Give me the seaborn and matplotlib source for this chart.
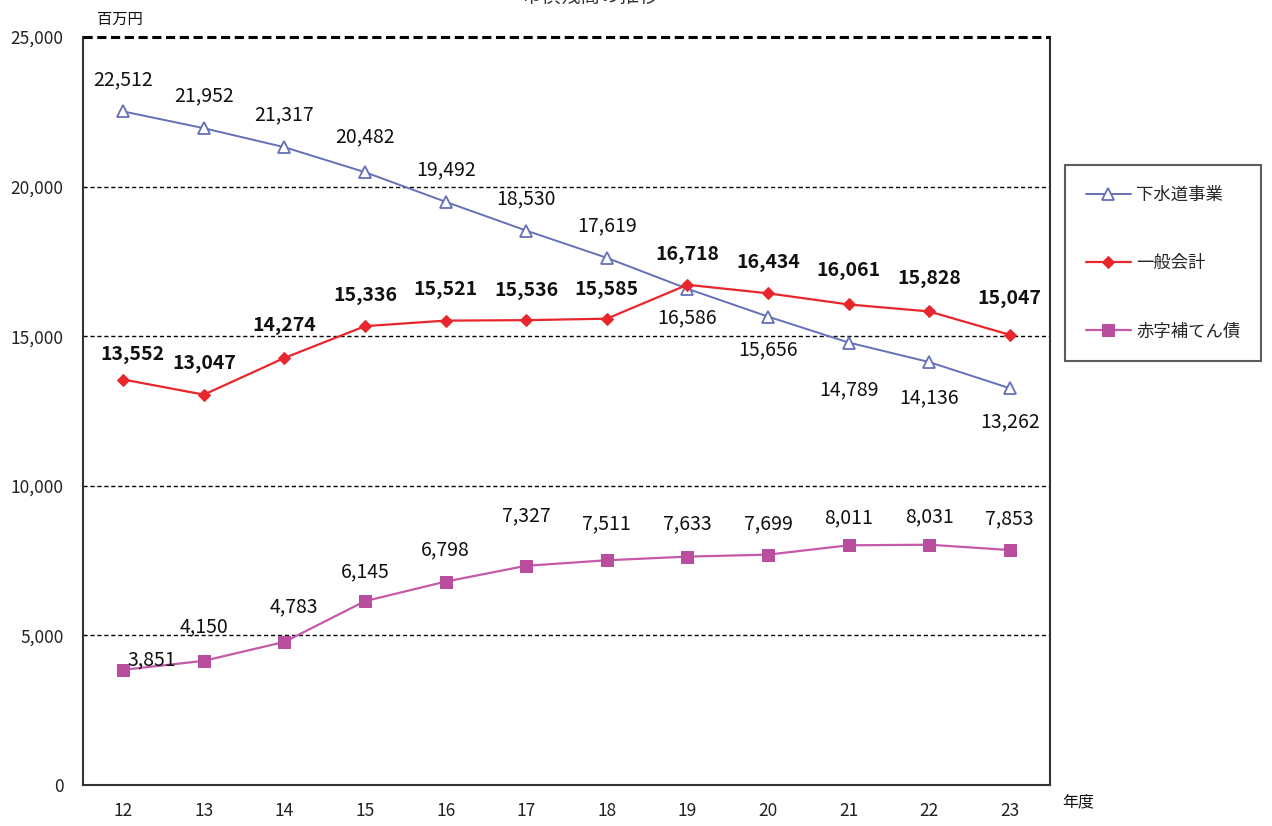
import matplotlib
matplotlib.use("Agg")
import matplotlib.pyplot as plt
import seaborn as sns
import pandas as pd
from matplotlib.ticker import FuncFormatter, MultipleLocator

# 年度 (平成)
years = [12, 13, 14, 15, 16, 17, 18, 19, 20, 21, 22, 23]

# 残高 (百万円)
gesuido = [22512, 21952, 21317, 20482, 19492, 18530, 17619, 16586, 15656, 14789, 14136, 13262]
ippan = [13552, 13047, 14274, 15336, 15521, 15536, 15585, 16718, 16434, 16061, 15828, 15047]
akaji = [3851, 4150, 4783, 6145, 6798, 7327, 7511, 7633, 7699, 8011, 8031, 7853]

series_names = ["下水道事業", "一般会計", "赤字補てん債"]

sns.set_theme(style="white")
plt.rcParams["font.family"] = ["Noto Sans CJK JP", "DejaVu Sans"]

W, H = 1272, 826
fig = plt.figure(figsize=(W / 100, H / 100), dpi=100)
ax = fig.add_axes([83 / W, (H - 785) / H, 967 / W, 748 / H])

df = pd.DataFrame({"年度": years, series_names[0]: gesuido,
                   series_names[1]: ippan, series_names[2]: akaji})

blue = "#6470b8"
red = "#e8262c"
purple = "#c45aa8"

sns.lineplot(data=df, x="年度", y=series_names[0], ax=ax, color=blue, lw=1.4,
             marker="^", markersize=8.5, markerfacecolor="white",
             markeredgecolor=blue, markeredgewidth=1.3, label=series_names[0])
sns.lineplot(data=df, x="年度", y=series_names[1], ax=ax, color=red, lw=1.6,
             marker="D", markersize=6, markerfacecolor=red,
             markeredgecolor=red, label=series_names[1])
sns.lineplot(data=df, x="年度", y=series_names[2], ax=ax, color=purple, lw=1.6,
             marker="s", markersize=8, markerfacecolor="#b94e9e",
             markeredgecolor="#b94e9e", label=series_names[2])

ax.set_xlim(11.5, 23.5)
ax.set_ylim(0, 25000)
ax.set_xticks(years)
ax.set_xticklabels([str(y) for y in years])
ax.yaxis.set_major_locator(MultipleLocator(5000))
ax.yaxis.set_major_formatter(FuncFormatter(lambda v, p: f"{int(v):,}"))
ax.set_xlabel("")
ax.set_ylabel("")
ax.tick_params(axis="both", length=0, labelsize=12.5, colors="#222222")
ax.tick_params(axis="x", pad=12)
ax.tick_params(axis="y", pad=14)

# dashed gridlines
for v in [5000, 10000, 15000, 20000]:
    ax.axhline(v, color="black", lw=1.0, ls=(0, (3, 2)), zorder=0)
ax.axhline(25000, color="black", lw=2.2, ls=(0, (3, 1.5)), zorder=3, clip_on=False)

for side in ["left", "bottom", "right"]:
    ax.spines[side].set_visible(True)
    ax.spines[side].set_color("#333333")
    ax.spines[side].set_linewidth(1.5)
ax.spines["top"].set_visible(False)

# value labels: (dx, dy) offsets in pixels
blue_off = [(0, 32), (0, 32), (0, 32), (0, 35), (0, 32), (0, 32), (0, 32),
            (0, -29), (0, -33), (0, -47), (0, -36), (0, -34)]
red_off = [(9, 25), (0, 31), (0, 32), (0, 31), (0, 31), (0, 30), (0, 29),
           (0, 30), (0, 31), (0, 34), (0, 33), (0, 36)]
purple_off = [(28, 10), (0, 34), (9, 35), (0, 29), (0, 32), (0, 50), (0, 36),
              (0, 33), (0, 31), (0, 28), (0, 28), (0, 31)]

for vals, offs, weight in [(gesuido, blue_off, "normal"),
                           (ippan, red_off, "bold"),
                           (akaji, purple_off, "normal")]:
    for x, v, (dx, dy) in zip(years, vals, offs):
        ax.annotate(f"{v:,}", (x, v), xytext=(dx, dy), textcoords="offset pixels",
                    ha="center", va="center", fontsize=14, fontweight=weight,
                    color="#111111")

fig.text(97 / W, 1 - 19 / H, "百万円", fontsize=11, ha="left", va="center",
         color="#111111")
fig.text(1062 / W, 1 - 802 / H, "年度", fontsize=11.5, ha="left", va="center",
         color="#111111")
fig.text(590 / W, 1 + 4 / H, "市債残高の推移", fontsize=14, ha="center",
         va="center", color="#333333")

leg = ax.legend(loc="upper left", bbox_to_anchor=(1065 / W, 1 - 165 / H),
                bbox_transform=fig.transFigure, frameon=True, fancybox=False,
                fontsize=12.5, labelspacing=2.9, handlelength=2.6,
                handletextpad=0.3, borderpad=1.2, borderaxespad=0)
leg.get_frame().set_edgecolor("#333333")
leg.get_frame().set_linewidth(1.5)

fig.savefig("out.png", dpi=100, facecolor="white")
